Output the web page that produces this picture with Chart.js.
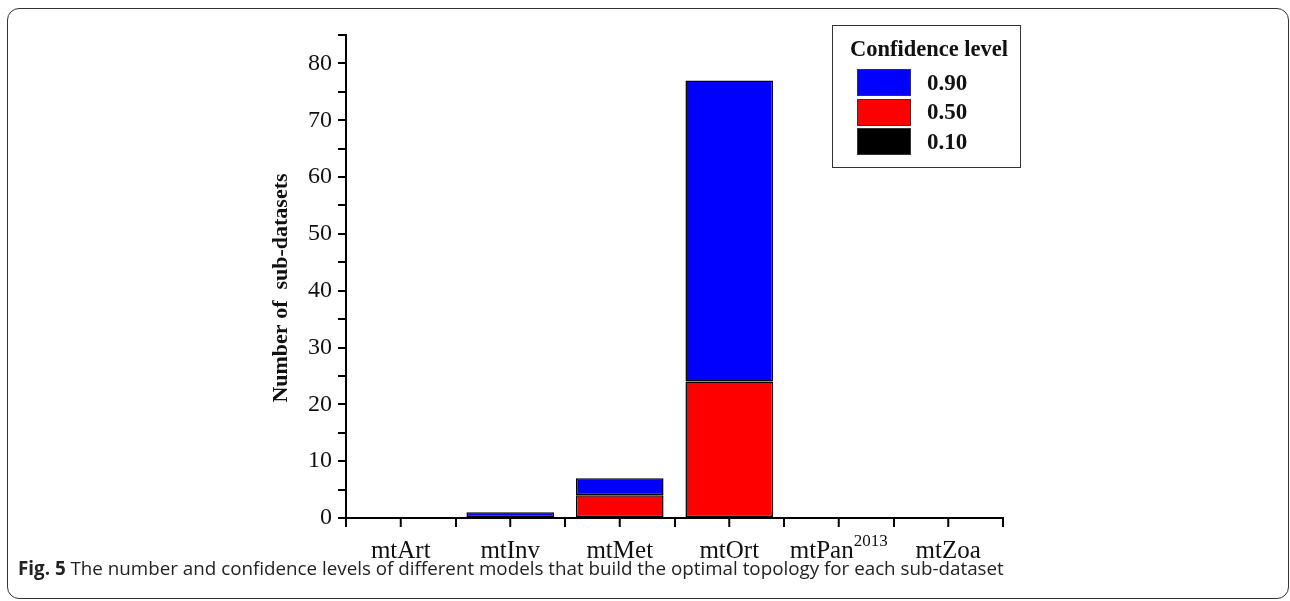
<!DOCTYPE html>
<html lang="en">
<head>
    <meta charset="UTF-8">
    <title>Fig. 5</title>
    <script src="https://cdn.jsdelivr.net/npm/chart.js@4.4.1/dist/chart.umd.min.js"></script>
    <style>
        html, body {
            margin: 0;
            padding: 0;
            background: #fff;
        }

        .page {
            position: relative;
            width: 1290px;
            height: 601px;
            overflow: hidden;
        }

        .frame {
            position: absolute;
            left: 7px;
            top: 8px;
            width: 1282px;
            height: 591px;
            box-sizing: border-box;
            border: 1.5px solid #333;
            border-radius: 12px;
        }

        #chart {
            position: absolute;
            left: 0;
            top: 0;
        }

        /* legend box in the top right of the plot */
        .legend {
            position: absolute;
            left: 832px;
            top: 25px;
            width: 189px;
            height: 143px;
            box-sizing: border-box;
            border: 1.5px solid #333;
            font-family: "Liberation Serif", serif;
            font-weight: bold;
            color: #111;
        }

        .legend h4 {
            margin: 0;
            position: absolute;
            left: 17px;
            top: 10px;
            font-size: 22.5px;
            white-space: nowrap;
        }

        .legend .item {
            position: absolute;
            left: 24px;
            height: 27px;
            display: flex;
            align-items: center;
            font-size: 23px;
        }

        .legend .swatch {
            width: 52px;
            height: 25px;
            border: 1px solid #333;
            margin-right: 16px;
        }

        .caption {
            position: absolute;
            left: 18px;
            top: 555px;
            font-family: "Open Sans", sans-serif;
            font-size: 18.8px;
            color: #222;
            white-space: nowrap;
        }
    </style>
</head>
<body>
<div class="page">
    <div class="frame"></div>
    <canvas id="chart" width="1290" height="601"></canvas>
    <div class="legend" id="legend">
        <h4>Confidence level</h4>
    </div>
    <div class="caption"><b>Fig. 5</b> The number and confidence levels of different models that build the optimal topology for each sub-dataset</div>
</div>

<script>
    // categories (base name + superscript part)
    const categoryNames = ['mtArt', 'mtInv', 'mtMet', 'mtOrt', 'mtPan', 'mtZoa'];
    const categorySups = ['', '', '', '', '2013', ''];

    // stacked counts per confidence level
    const level010 = [0, 0, 0, 0, 0, 0];
    const level050 = [0, 0, 4, 24, 0, 0];
    const level090 = [0, 1, 3, 53, 0, 0];

    const levelLabels = ['0.90', '0.50', '0.10'];
    const levelColors = ['#0000ff', '#ff0000', '#000000'];

    const yTicks = [0, 10, 20, 30, 40, 50, 60, 70, 80];
    const yTitle = 'Number of  sub-datasets';

    const serif = '"Liberation Serif", "Times New Roman", serif';

    // legend built from the level arrays
    const legendEl = document.getElementById('legend');
    levelLabels.forEach(function (lab, i) {
        const item = document.createElement('div');
        item.className = 'item';
        item.style.top = (43 + i * 29.5) + 'px';
        const sw = document.createElement('div');
        sw.className = 'swatch';
        sw.style.background = levelColors[i];
        const tx = document.createElement('span');
        tx.textContent = lab;
        item.appendChild(sw);
        item.appendChild(tx);
        legendEl.appendChild(item);
    });

    // x labels with superscript, ticks at category centres, y title
    const categoryLabelPlugin = {
        id: 'categoryLabels',
        afterDraw(chart) {
            const ctx = chart.ctx;
            const xs = chart.scales.x;
            ctx.save();
            ctx.strokeStyle = '#000';
            ctx.lineWidth = 2;
            ctx.fillStyle = '#111';
            ctx.textBaseline = 'middle';
            categoryNames.forEach(function (name, i) {
                const x = xs.getPixelForValue(i);
                ctx.beginPath();
                ctx.moveTo(x, xs.top);
                ctx.lineTo(x, xs.top + 9);
                ctx.stroke();

                ctx.font = '25px ' + serif;
                const w1 = ctx.measureText(name).width;
                ctx.font = '17px ' + serif;
                const w2 = categorySups[i] ? ctx.measureText(categorySups[i]).width : 0;
                const start = x - (w1 + w2) / 2;
                const y = xs.top + 33;
                ctx.textAlign = 'left';
                ctx.font = '25px ' + serif;
                ctx.fillText(name, start, y);
                if (categorySups[i]) {
                    ctx.font = '17px ' + serif;
                    ctx.fillText(categorySups[i], start + w1, y - 9);
                }
            });

            // rotated y axis title
            ctx.translate(281, 288);
            ctx.rotate(-Math.PI / 2);
            ctx.textAlign = 'center';
            ctx.font = 'bold 22px ' + serif;
            ctx.fillText(yTitle, 0, 0);
            ctx.restore();
        }
    };

    function borderFor(c) {
        return c.raw ? 1.5 : 0;
    }

    const ctx = document.getElementById('chart').getContext('2d');
    new Chart(ctx, {
        type: 'bar',
        data: {
            labels: categoryNames.map(function (n, i) { return n + categorySups[i]; }),
            datasets: [{
                label: levelLabels[2],
                data: level010,
                backgroundColor: levelColors[2]
            }, {
                label: levelLabels[1],
                data: level050,
                backgroundColor: levelColors[1]
            }, {
                label: levelLabels[0],
                data: level090,
                backgroundColor: levelColors[0]
            }]
        },
        options: {
            responsive: false,
            animation: false,
            layout: {
                padding: { left: 268, right: 287, top: 35, bottom: 33 }
            },
            datasets: {
                bar: {
                    categoryPercentage: 1,
                    barPercentage: 0.8,
                    borderWidth: borderFor,
                    borderColor: '#000',
                    borderSkipped: false
                }
            },
            plugins: {
                legend: { display: false },
                tooltip: { enabled: false }
            },
            scales: {
                x: {
                    stacked: true,
                    grid: {
                        offset: true,
                        drawOnChartArea: false,
                        drawTicks: true,
                        tickLength: 9,
                        color: '#000',
                        lineWidth: 2
                    },
                    border: { display: true, color: '#000', width: 2 },
                    ticks: { display: false },
                    afterFit(scale) { scale.height = 50; }
                },
                y: {
                    stacked: true,
                    min: 0,
                    max: 85,
                    grid: {
                        drawOnChartArea: false,
                        drawTicks: true,
                        tickLength: 8,
                        color: '#000',
                        lineWidth: 2
                    },
                    border: { display: true, color: '#000', width: 2 },
                    ticks: {
                        stepSize: 5,
                        autoSkip: false,
                        padding: 6,
                        color: '#111',
                        font: { family: serif, size: 24 },
                        callback: function (v) { return yTicks.includes(v) ? String(v) : ''; }
                    },
                    afterFit(scale) { scale.width = 78; }
                }
            }
        },
        plugins: [categoryLabelPlugin]
    });
</script>
</body>
</html>
